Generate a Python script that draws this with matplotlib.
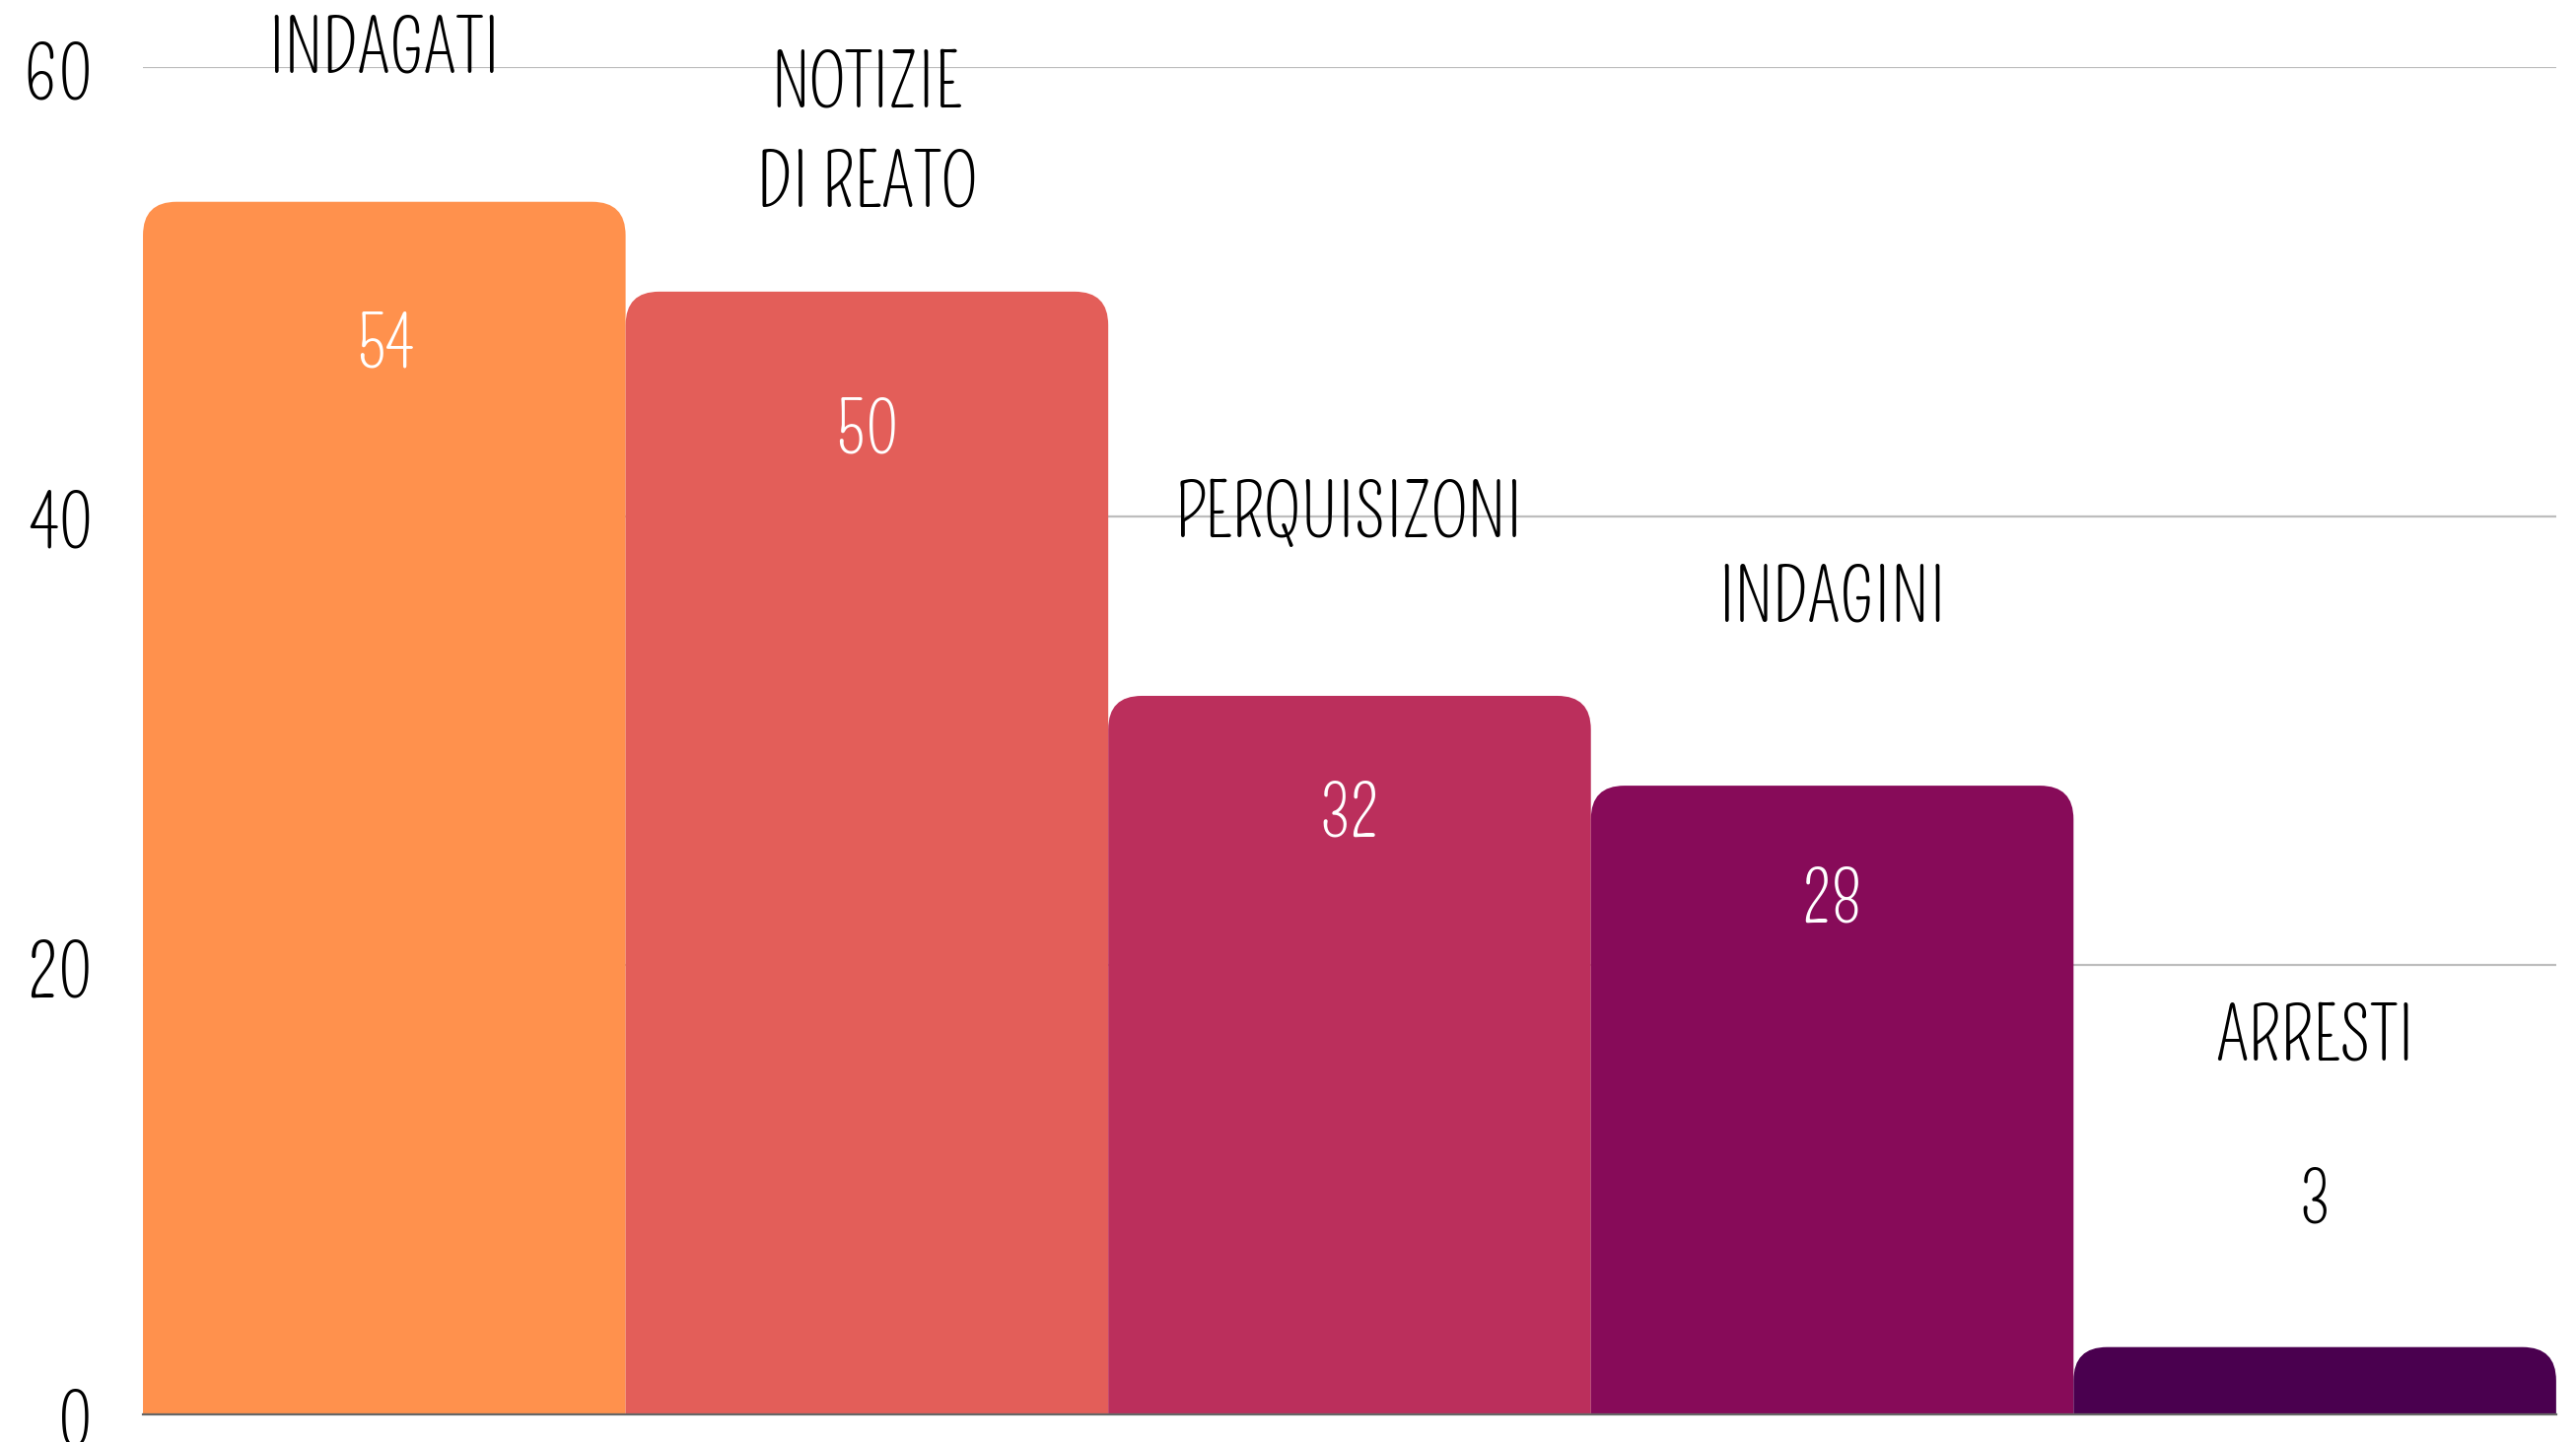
from matplotlib import pyplot as plt
from matplotlib.patches import FancyBboxPatch
import numpy as np

# data
categories = ["INDAGATI", "NOTIZIE\nDI REATO", "PERQUISIZONI", "INDAGINI", "ARRESTI"]
values = [54, 50, 32, 28, 3]
colors = ["#ff914d", "#e35e59", "#bb2f5c", "#870b59", "#4a004f"]
yticks = [0, 20, 40, 60]

plt.rcParams['font.family'] = ['Pompiere', 'DejaVu Sans']

fig = plt.figure(figsize=(26.13, 14.63), dpi=100)
ax = fig.add_axes([0.0555, 0.0191, 0.9368, 0.9344])

x = np.arange(len(values))
bars = ax.bar(x, values, width=1.0, color=colors, zorder=2)
ax.set_xlim(-0.5, len(values) - 0.5)
ax.set_ylim(0, 60)

# swap plain rectangles for ones with rounded top corners
fig.canvas.draw()
p0 = ax.transData.transform((0, 0))
p1 = ax.transData.transform((1, 1))
px_x = p1[0] - p0[0]
px_y = p1[1] - p0[1]
radius_px = 34
rx = radius_px / px_x
for r in bars:
    bx, by = r.get_xy()
    w, h = r.get_width(), r.get_height()
    r.remove()
    extra = 3.0  # push the bottom rounding below zero, clipped by axes
    patch = FancyBboxPatch((bx, by - extra), w, h + extra,
                           boxstyle=f"round,pad=0,rounding_size={rx}",
                           mutation_aspect=px_x / px_y,
                           facecolor=r.get_facecolor(), edgecolor="none",
                           zorder=2, clip_on=True)
    ax.add_patch(patch)

# grid and baseline
for t in yticks[1:]:
    ax.axhline(t, color="#bdbdbd", lw=1.6, zorder=1)
ax.axhline(0, color="#666666", lw=1.6, zorder=3, clip_on=False)

for s in ax.spines.values():
    s.set_visible(False)
ax.set_xticks([])
ax.set_yticks(yticks)
ax.set_yticklabels([str(t) for t in yticks], fontsize=53)
ax.tick_params(axis="y", length=0, pad=36)

# labels
for i, (cat, v) in enumerate(zip(categories, values)):
    if v > 10:
        ax.text(i, 0.95 * v - 3.7, str(v), ha="center", va="center",
                fontsize=51, color="white", zorder=4)
        ax.text(i, 0.94 * v + 10.0, cat, ha="center", va="center",
                fontsize=53, color="black", linespacing=1.27, zorder=4, clip_on=False)
    else:
        ax.text(i, v + 6.5, str(v), ha="center", va="center",
                fontsize=51, color="black", zorder=4)
        ax.text(i, v + 13.8, cat, ha="center", va="center",
                fontsize=53, color="black", zorder=4)

fig.savefig("out.png", dpi=100)
